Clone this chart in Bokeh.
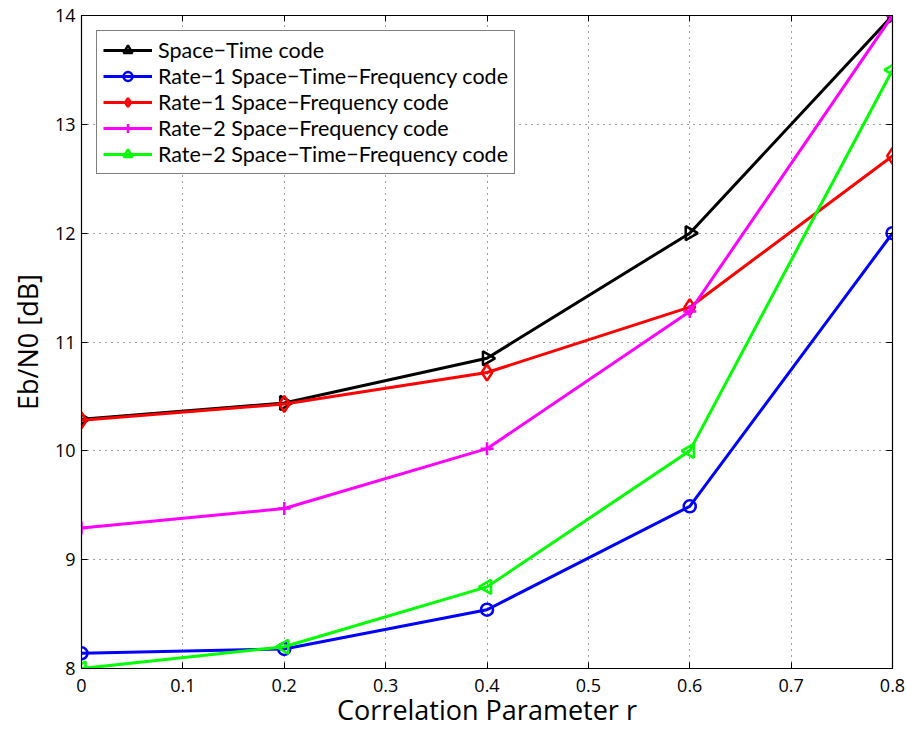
import math
from bokeh.plotting import figure
from bokeh.models import (Legend, LegendItem, FixedTicker, CustomJSTickFormatter,
                          ColumnDataSource, Range1d, LinearAxis)
from bokeh.embed import file_html
from bokeh.resources import INLINE

r = [0.0, 0.2, 0.4, 0.6, 0.8]
space_time = [10.29, 10.44, 10.85, 12.0, 14.0]
rate1_stf = [8.14, 8.18, 8.54, 9.49, 12.0]
rate1_sf = [10.28, 10.43, 10.72, 11.32, 12.71]
rate2_sf = [9.29, 9.47, 10.02, 11.28, 14.0]
rate2_stf = [8.0, 8.2, 8.75, 10.0, 13.5]

x_ticks = [0, 0.1, 0.2, 0.3, 0.4, 0.5, 0.6, 0.7, 0.8]
y_ticks = [8, 9, 10, 11, 12, 13, 14]

FONT = "Open Sans"
LEG_FONT = "Lato"

p = figure(width=906, height=731, output_backend="svg", toolbar_location=None,
           x_range=Range1d(0, 0.8), y_range=Range1d(8, 14),
           min_border_left=81, min_border_right=14, min_border_top=15, min_border_bottom=63)
p.background_fill_color = "white"
p.border_fill_color = "white"
p.outline_line_color = "black"
p.outline_line_width = 1.2

for ax in (p.xaxis[0], p.yaxis[0]):
    ax.major_tick_in = 6
    ax.major_tick_out = 0
    ax.minor_tick_in = 0
    ax.minor_tick_out = 0
    ax.axis_line_color = "black"
    ax.major_tick_line_color = "black"
    ax.major_label_text_font = FONT
    ax.major_label_text_font_size = "18px"
    ax.major_label_text_color = "black"
    ax.axis_label_text_font = FONT
    ax.axis_label_text_font_style = "normal"
    ax.axis_label_text_color = "black"

p.xaxis.ticker = FixedTicker(ticks=x_ticks)
p.yaxis.ticker = FixedTicker(ticks=y_ticks)
p.xaxis.formatter = CustomJSTickFormatter(code="return Number(tick.toFixed(2)).toString();")
p.xaxis.axis_label = "Correlation Parameter r"
p.yaxis.axis_label = "Eb/N0 [dB]"
p.xaxis.axis_label_text_font_size = "27px"
p.yaxis.axis_label_text_font_size = "27px"
p.xaxis.axis_label_standoff = -4
p.yaxis.axis_label_standoff = 6
p.xaxis.major_label_standoff = 10
p.yaxis.major_label_standoff = 6

# box ticks on top and right edges (MATLAB style), no labels
blank = CustomJSTickFormatter(code="return '';")
top_ax = LinearAxis(ticker=FixedTicker(ticks=x_ticks), formatter=blank,
                    major_tick_in=6, major_tick_out=0, minor_tick_in=0, minor_tick_out=0,
                    major_label_standoff=0, axis_line_color="black")
right_ax = LinearAxis(ticker=FixedTicker(ticks=y_ticks), formatter=blank,
                      major_tick_in=6, major_tick_out=0, minor_tick_in=0, minor_tick_out=0,
                      major_label_standoff=0, axis_line_color="black")
p.add_layout(top_ax, "above")
p.add_layout(right_ax, "right")

p.xgrid.ticker = FixedTicker(ticks=x_ticks)
p.ygrid.ticker = FixedTicker(ticks=y_ticks)
for g in (p.xgrid[0], p.ygrid[0]):
    g.grid_line_color = "#444444"
    g.grid_line_dash = "1 5"
    g.grid_line_width = 1

LW = 3
series = [
    ("Space−Time code", space_time, "black", "triangle", -math.pi / 2, 14),
    ("Rate−1 Space−Time−Frequency code", rate1_stf, "#0000ff", "circle", 0.0, 12),
    ("Rate−1 Space−Frequency code", rate1_sf, "#ff0000", "diamond", 0.0, 16),
    ("Rate−2 Space−Frequency code", rate2_sf, "#ff00ff", "cross", 0.0, 13),
    ("Rate−2 Space−Time−Frequency code", rate2_stf, "#00ff00", "triangle", math.pi / 2, 14),
]

items = []
for label, ys, color, marker, ang, size in series:
    src = ColumnDataSource(dict(x=r, y=ys, a=[ang] * len(r)))
    ln = p.line("x", "y", source=src, line_color=color, line_width=LW)
    mk = p.scatter("x", "y", source=src, marker=marker, size=size, angle="a",
                   line_color=color, fill_color=None, fill_alpha=0, line_width=2.5)
    items.append(LegendItem(label=label, renderers=[ln, mk]))

legend = Legend(items=items, location="top_left")
legend.label_text_font = LEG_FONT
legend.label_text_font_size = "21.5px"
legend.label_text_color = "black"
legend.border_line_color = "black"
legend.border_line_width = 1.5
legend.background_fill_color = "white"
legend.background_fill_alpha = 1
legend.glyph_width = 49
legend.glyph_height = 22
legend.label_height = 22
legend.spacing = 0
legend.padding = 6
legend.margin = 15
legend.label_standoff = 6
p.add_layout(legend)

open("out.html", "w").write(file_html(p, INLINE))
